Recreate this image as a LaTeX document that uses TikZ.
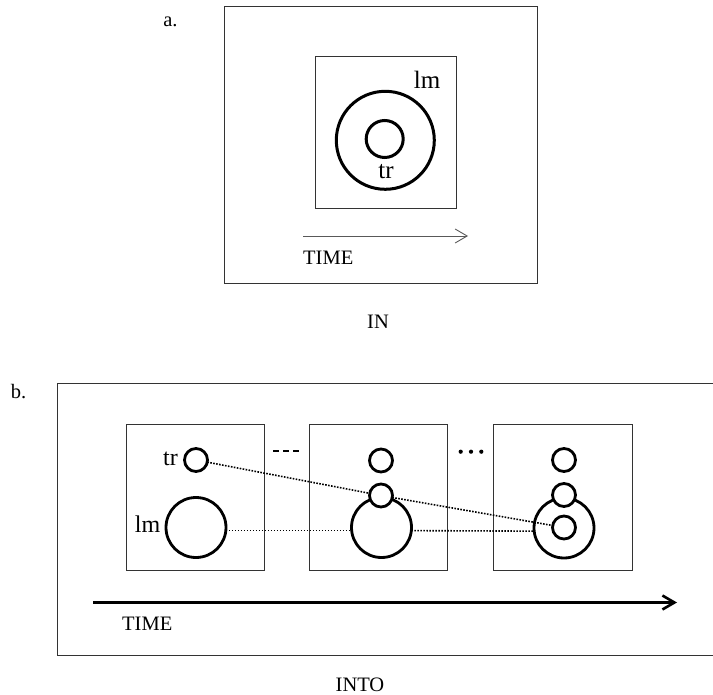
\documentclass[tikz,border=0pt]{standalone}
\usepackage{fontspec}
\setmainfont{Liberation Serif}
\usetikzlibrary{arrows.meta}
\begin{document}
\begin{tikzpicture}[x=1pt,y=-1pt,
  frame/.style={draw=black!80, line width=1pt},
  ring/.style={circle, draw, line width=2.8pt, inner sep=0pt, outer sep=0pt},
  trsmall/.style={ring, minimum size=23pt},
  lmbig/.style={ring, minimum size=60pt},
  link/.style={line width=1.6pt, dash pattern=on 1.6pt off 1.4pt},
  lab/.style={inner sep=0pt, font=\fontsize{20.5}{24}\selectfont},
  circlab/.style={inner sep=0pt, font=\fontsize{24}{28}\selectfont},
  timearrow/.style={-{Straight Barb[length=12pt,width=14pt]}},
]
\useasboundingbox (0,0) rectangle (713,695);

% ---------- (a) IN ----------
\node[lab] (alabel) at (170.5,22) {a.};
\draw[frame] (224,7) rectangle (537,284);
\draw[frame] (315,57) rectangle (456,209);
\node[ring, line width=3pt, minimum size=98pt] (alm) at (385.3,140.3) {};
\node[ring, line width=3pt, minimum size=37pt] (atr) at (384.7,139) {};
\node[circlab, font=\fontsize{25}{30}\selectfont] (almlab) at (427,80) {lm};
\node[circlab, font=\fontsize{25}{30}\selectfont] (atrlab) at (386,171.5) {tr};
\coordinate (aTs) at (303,236);
\coordinate (aTe) at (468,236);
\draw[timearrow, line width=0.9pt, draw=black!65] (aTs) -- (aTe);
\node[lab, anchor=west] (atime) at (303,258) {TIME};
\node[lab] (inlab) at (378,321.5) {IN};

% ---------- (b) INTO ----------
\node[lab] (blabel) at (18.5,392) {b.};
\draw[frame] (720,384) -- (57,384) -- (57,655) -- (720,655);
\draw[frame] (126,424) rectangle (264,570);
\draw[frame] (309.5,424) rectangle (447.5,570);
\draw[frame] (493.5,424) rectangle (632,570);

% first moment
\node[trsmall] (tr1) at (196,460) {};
\node[lmbig] (lm1) at (196,527.5) {};
\node[circlab] (tr1lab) at (170.5,459) {tr};
\node[circlab] (lm1lab) at (147.5,524) {lm};

% intermediate moment
\node[lmbig] (lm2) at (381.5,527.5) {};
\node[trsmall] (tr2a) at (381,460.5) {};
\node[trsmall, fill=white] (tr2b) at (381,495.5) {};

% final moment
\node[lmbig] (lm3) at (564,528) {};
\node[trsmall] (tr3a) at (564,460) {};
\node[trsmall, fill=white] (tr3b) at (564,495) {};
\node[trsmall] (tr3c) at (564,527.5) {};

% ellipses between the moments
\draw[line width=2pt, dash pattern=on 6pt off 4pt] (273,451) -- (299,451);
\fill (460.7,451.7) circle (2.1) (471,451.7) circle (2.1) (481.3,451.7) circle (2.1);

% trajectories
\draw[link] (tr1) -- (tr2b);
\draw[link] (tr2b) -- (tr3c);
\draw[link] (lm1.-6) -- (lm2.186);
\draw[link] (lm2.-6) -- (lm3.186);

% time axis
\coordinate (bTs) at (93,602.5);
\coordinate (bTe) at (677,602.5);
\draw[timearrow, line width=2.6pt] (bTs) -- (bTe);
\node[lab, anchor=west] (btime) at (122,624) {TIME};
\node[lab] (intolab) at (360,685) {INTO};
\end{tikzpicture}
\end{document}
